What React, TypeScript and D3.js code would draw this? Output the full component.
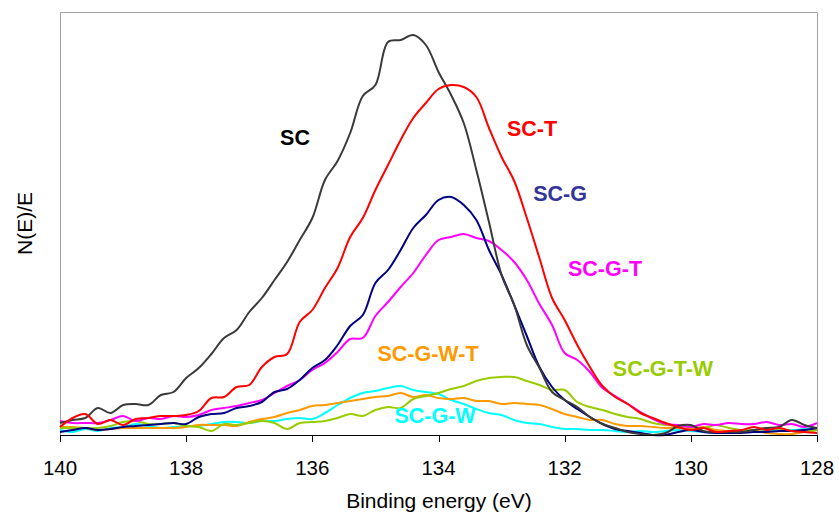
import React from "react";
import * as d3 from "d3";

const energies = [140.0,139.8,139.6,139.4,139.2,139.0,138.8,138.6,138.4,138.2,138.0,137.8,137.6,137.4,137.2,137.0,136.8,136.6,136.4,136.2,136.0,135.8,135.6,135.4,135.2,135.0,134.8,134.6,134.4,134.2,134.0,133.8,133.6,133.4,133.2,133.0,132.8,132.6,132.4,132.2,132.0,131.8,131.6,131.4,131.2,131.0,130.8,130.6,130.4,130.2,130.0,129.8,129.6,129.4,129.2,129.0,128.8,128.6,128.4,128.2,128.0];

const SC = [12,15,17,27,22,30,31,30,40,43,57,67,81,97,105,123,137,155,173,195,217,255,274,302,339,350,393,395,400,390,363,340,312,265,213,160,130,90,67,43,35,28,18,11,7,3,1,0,2,9,10,4,3,3,3,5,7,8,15,10,7];
const SC_T = [8,17,21,11,15,10,16,17,19,19,20,24,37,38,48,50,68,78,81,113,125,147,167,198,217,245,270,295,317,332,346,350,348,338,307,278,254,217,177,137,115,90,68,49,38,31,22,17,12,8,5,7,3,4,5,8,5,7,4,3,2];
const SC_G = [3,5,7,5,6,8,9,10,11,12,11,18,21,22,27,29,33,43,46,55,67,75,90,109,120,152,165,185,207,220,235,238,230,215,185,160,130,99,68,48,35,26,18,11,6,4,2,0,0,3,5,3,2,2,2,3,3,4,4,5,7];
const SC_G_T = [14,12,12,12,15,19,14,17,16,19,18,20,25,27,29,32,35,42,49,55,65,72,83,96,97,119,133,148,162,180,195,198,201,197,194,185,173,155,131,110,82,75,63,47,39,31,23,16,11,10,8,11,10,12,11,11,13,10,11,8,12];
const SC_G_W_T = [8,8,7,5,6,7,7,7,7,7,8,10,10,10,9,13,16,18,22,25,29,30,32,34,36,38,39,42,38,40,37,36,37,34,34,31,32,31,30,26,21,18,15,15,11,9,9,8,7,7,6,8,5,4,4,5,2,1,1,3,5];
const SC_G_W = [5,3,6,4,7,8,11,9,7,8,9,9,11,13,13,12,14,14,16,17,16,22,30,37,42,44,47,49,45,43,41,35,31,26,22,20,15,12,11,8,6,6,5,5,4,3,4,3,4,5,4,3,3,4,5,5,5,5,5,6,7];
const SC_G_T_W = [7,7,7,7,9,13,14,11,11,12,9,8,4,11,10,12,14,12,6,12,13,14,17,21,19,25,28,27,36,39,42,46,49,54,57,58,58,54,50,45,45,33,28,25,21,18,16,12,10,9,8,7,10,7,5,5,7,6,4,3,5];

const xTicks = [140, 138, 136, 134, 132, 130, 128];

const series = [
  { name: "SC-G-W", values: SC_G_W, color: "#00ffff", label: "#00ffff", lx: 435, ly: 415 },
  { name: "SC-G-W-T", values: SC_G_W_T, color: "#ff9900", label: "#ff9900", lx: 428, ly: 353 },
  { name: "SC-G-T-W", values: SC_G_T_W, color: "#99cc00", label: "#99cc00", lx: 663, ly: 368 },
  { name: "SC-G-T", values: SC_G_T, color: "#ff00ff", label: "#ff00ff", lx: 605, ly: 268 },
  { name: "SC-G", values: SC_G, color: "#000080", label: "#333399", lx: 560, ly: 193 },
  { name: "SC", values: SC, color: "#3a3a3a", label: "#000000", lx: 295, ly: 137 },
  { name: "SC-T", values: SC_T, color: "#ff0000", label: "#ff0000", lx: 532, ly: 128 },
];

const W = 839, H = 515;
const left = 60, right = 817, top = 12, bottom = 435;
const font = "Arial, 'Liberation Sans', sans-serif";

export default function App() {
  const x = d3.scaleLinear().domain([140, 128]).range([left, right]);
  const y = d3.scaleLinear().domain([0, 423]).range([bottom, top]);
  const line = d3
    .line<number>()
    .x((_, i) => x(energies[i]))
    .y((d) => y(d))
    .curve(d3.curveCatmullRom.alpha(0.5));

  return (
    <svg
      width={W}
      height={H}
      style={{ position: "fixed", left: 0, top: 0, background: "#fff" }}
      fontFamily={font}
    >
      <rect x={0} y={0} width={W} height={H} fill="#fff" />
      <path
        d={`M${left + 0.5},${bottom}V${top + 0.5}H${right + 0.5}V${bottom}`}
        fill="none"
        stroke="#a0a0a0"
        strokeWidth={1}
      />
      <g>
        {series.map((s) => (
          <path
            key={s.name}
            d={line(s.values) || ""}
            fill="none"
            stroke={s.color}
            strokeWidth={2}
            strokeLinejoin="round"
          />
        ))}
      </g>
      <line x1={left} x2={right + 1} y1={bottom + 0.5} y2={bottom + 0.5} stroke="#000" strokeWidth={1} />
      {xTicks.map((t) => (
        <g key={t}>
          <line
            x1={Math.round(x(t)) + 0.5}
            x2={Math.round(x(t)) + 0.5}
            y1={bottom}
            y2={bottom + 7}
            stroke="#000"
            strokeWidth={1}
          />
          <text x={x(t)} y={475} textAnchor="middle" fontSize={20.5} fill="#000">
            {t}
          </text>
        </g>
      ))}
      <text x={(left + right) / 2 + 0.5} y={508} textAnchor="middle" fontSize={21} fill="#000">
        Binding energy (eV)
      </text>
      <text
        transform={`translate(32, ${(top + bottom) / 2}) rotate(-90)`}
        textAnchor="middle"
        fontSize={21}
        fill="#000"
      >
        N(E)/E
      </text>
      {series.map((s) => (
        <text
          key={s.name + "-label"}
          x={s.lx}
          y={s.ly}
          dy="0.35em"
          textAnchor="middle"
          fontSize={21.5}
          fontWeight="bold"
          fill={s.label}
        >
          {s.name}
        </text>
      ))}
    </svg>
  );
}
